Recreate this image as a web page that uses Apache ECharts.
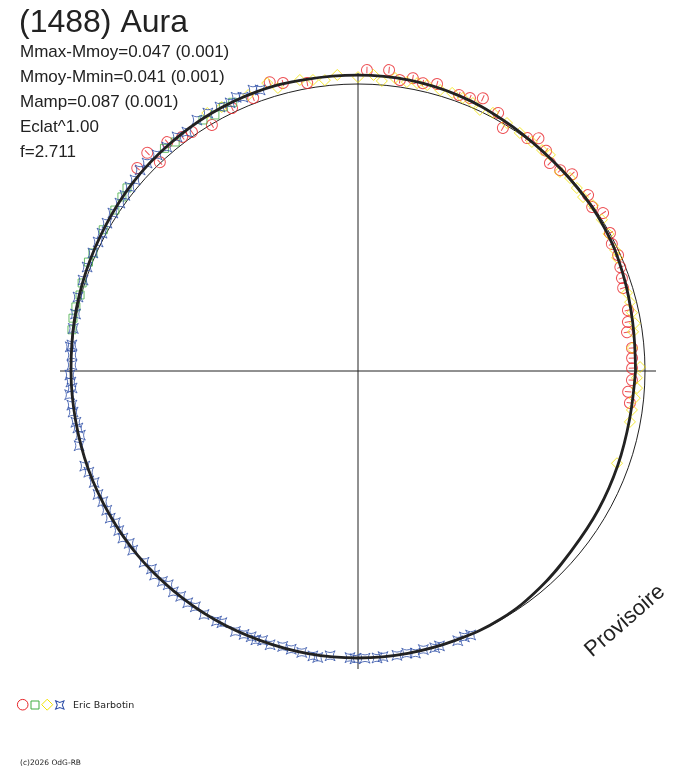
<!DOCTYPE html>
<html>
<head>
<meta charset="utf-8">
<title>(1488) Aura</title>
<script src="https://cdn.jsdelivr.net/npm/echarts@6/dist/echarts.min.js"></script>
<style>
  html, body { margin: 0; padding: 0; background: #fff; }
  #chart { width: 688px; height: 768px; }
</style>
</head>
<body>
<div id="chart"></div>
<script>
// angle in degrees (counter-clockwise from the right), radius = relative flux (1 = mean)
var fitAngle = [0, 10, 20, 30, 40, 50, 60, 70, 80, 90, 100, 110, 120, 130, 140, 150, 160, 170,
  180, 190, 200, 210, 220, 230, 240, 250, 260, 270, 280, 290, 300, 310, 320, 330, 340, 350];
var fitFlux = [0.967, 0.972, 0.983, 0.993, 0.996, 1.000, 1.010, 1.022, 1.029, 1.031, 1.032, 1.035, 1.033, 1.028, 1.023, 1.015, 1.009, 1.004,
  1.000, 0.999, 1.000, 1.000, 1.001, 1.000, 1.000, 0.999, 1.000, 1.000, 0.999, 0.998, 0.997, 0.986, 0.972, 0.967, 0.963, 0.961];

var redAngle = [107, 104.6, 100, 88.3, 84.1, 81.8, 79.4, 77.3, 74.6, 69.9, 67.7, 65.4, 61.5, 59.2, 54, 52.2, 49.5, 47.3, 44.8, 42.6,
  37.4, 35, 32.8, 28.7, 26.6, 24, 21.6, 19.4, 17.4, 12.7, 10.3, 8.2, 4.8, 2.7, 0.6, 358.1, 355.6, 353.3,
  111, 115.6, 120.7, 124.8, 126.9, 129.8, 133.5, 134, 137.4];
var redFlux = [1.052, 1.037, 1.019, 1.049, 1.054, 1.024, 1.038, 1.028, 1.037, 1.024, 1.028, 1.045, 1.023, 0.986, 1.003, 1.026, 1.009, 0.986, 0.993, 1.013,
  1.009, 0.996, 1.016, 1.001, 0.989, 0.992, 0.983, 0.975, 0.968, 0.964, 0.956, 0.947, 0.958, 0.956, 0.955, 0.955, 0.944, 0.954,
  1.019, 1.016, 0.997, 1.014, 1.020, 1.038, 1.003, 1.057, 1.045];

var greenAngle = [115, 117, 119.2, 121.7, 128.6, 131, 141.6, 143.6, 146.5, 151, 156, 158, 162.3, 164.7, 167.2, 169.5, 171.8];
var greenFlux = [1.033, 1.033, 1.022, 1.028, 1.021, 1.028, 1.027, 1.022, 1.016, 1.015, 1.011, 1.013, 1.009, 1.004, 1.008, 1.010, 1.007];

var yellowAngle = [107.5, 105.8, 101.3, 98.8, 96.5, 94, 90, 87, 85.3, 82.8, 80.4, 78.4, 76.4, 73.7, 71.3, 69, 66.8, 65, 62.4, 59,
  55.8, 52.8, 50.2, 48.4, 44.6, 42.3, 39.9, 37.7, 35.2, 31.8, 28.7, 25.2, 23.6, 16.2, 14.2, 12, 9.8, 8.1, 4.8, 0.8,
  358.6, 356.5, 354.4, 351.9, 349.4, 340.4, 111.7, 117.3, 120.3];
var yellowFlux = [1.052, 1.025, 1.034, 1.026, 1.020, 1.034, 1.024, 1.033, 1.014, 1.029, 1.021, 1.024, 1.025, 1.020, 1.023, 1.019, 1.016, 1.004, 1.015, 1.008,
  1.003, 1.002, 1.002, 1.007, 0.988, 0.999, 0.994, 0.991, 1.002, 1.000, 0.995, 0.990, 0.985, 0.976, 0.978, 0.976, 0.979, 0.968, 0.958, 0.983,
  0.972, 0.974, 0.969, 0.964, 0.964, 0.958, 1.035, 1.035, 1.041];

var blueAngle = [109.2, 110.5, 112.8, 114, 115.5, 117.6, 120.2, 122.7, 125.6, 127.7, 130.5, 132.9, 135.4, 137.3, 139.4, 141.1, 143, 144.8, 147.2, 149.5,
  151.7, 153.6, 156, 159, 161.7, 165.2, 168.6, 171.5, 174.8,
  175.2, 176.8, 178.8, 180.8, 182.2, 183.4, 184.7, 186.8, 188.2, 190.3, 191.5, 193, 195, 199.2, 200.6, 202.9, 205.4, 207.1, 209, 210.7,
  212, 213.7, 215.4, 217, 218.5, 221.8, 223.8, 225.1, 227.1, 228.4, 230.1, 231.8, 233.7, 235.4, 237.7, 240.5, 241.6, 244.8, 246.6, 248.1, 249.2,
  250.5, 252.2, 254.7, 256.5, 258.7, 261, 262, 264.4, 268.4, 269.4, 271.4, 273.8, 275, 277.8, 279.8, 281.5, 283.2, 285.5, 286.5, 290.3, 291.8, 293.1];
var blueFlux = [1.037, 1.045, 1.035, 1.044, 1.035, 1.038, 1.040, 1.039, 1.024, 1.031, 1.026, 1.028, 1.032, 1.033, 1.023, 1.021, 1.017, 1.015, 1.016, 1.015,
  1.013, 1.011, 1.011, 1.011, 1.009, 1.009, 1.004, 1.003, 1.001,
  1.006, 0.998, 0.997, 1.004, 1.001, 0.998, 1.008, 1.004, 1.003, 0.999, 0.996, 0.993, 1.006, 1.008, 1.002, 0.998, 1.003, 0.999, 1.001, 1.004,
  0.997, 1.002, 1.005, 0.998, 1.003, 1.000, 0.997, 1.004, 1.001, 0.996, 1.003, 0.999, 1.002, 0.998, 1.004, 1.001, 0.997, 1.003, 1.000, 0.998, 1.002,
  0.996, 1.002, 0.995, 0.997, 1.000, 1.005, 1.008, 0.997, 0.999, 1.003, 1.001, 1.002, 0.999, 1.000, 0.998, 1.003, 0.997, 1.001, 0.999, 1.002, 0.998, 1.000];

var statLines = ['Mmax-Mmoy=0.047 (0.001)', 'Mmoy-Mmin=0.041 (0.001)', 'Mamp=0.087 (0.001)', 'Eclat^1.00', 'f=2.711'];

var RED = '#e8262a', GREEN = '#43ad43', YELLOW = '#f2e400', BLUE = '#3050a8', INK = '#222';
var circleTick = 'path://M0,-10A10,10,0,1,1,0,10A10,10,0,1,1,0,-10ZM0,-6L0,6';
var starPath = 'path://M-10,-10Q0,-3,10,-10Q3,0,10,10Q0,3,-10,10Q-3,0,-10,-10Z';

// unit circle = 287 px; data polar is drawn larger so nothing gets clipped
var R1 = 287, RDATA = 330;
var CENTER = [358, 371];

function pairs(angle, flux) {
  return angle.map(function (a, i) { return [flux[i], a]; });
}

var chart = echarts.init(document.getElementById('chart'), null, { renderer: 'canvas' });

var fitData = pairs(fitAngle, fitFlux);
fitData.push([fitFlux[0], 360]);

function hollow(color) {
  return { color: 'rgba(0,0,0,0)', borderColor: color, borderWidth: 1 };
}

function bareRadius(idx, max) {
  return { polarIndex: idx, type: 'value', min: 0, max: max, axisLine: { show: false }, axisTick: { show: false },
    axisLabel: { show: false }, splitLine: { show: false } };
}

function scatter(name, idxSymbol, size, color, angle, flux) {
  return { name: name, type: 'scatter', coordinateSystem: 'polar', polarIndex: 2, clip: false,
    symbol: idxSymbol, symbolSize: size, itemStyle: hollow(color), data: pairs(angle, flux) };
}

var redSeries = scatter('o', circleTick, 11, RED, redAngle, redFlux);
redSeries.symbolRotate = function (v) { return v[1] - 90; };

var option = {
  animation: false,
  backgroundColor: '#fff',
  textStyle: { fontFamily: 'Liberation Sans, Arial, sans-serif' },
  title: [
    { text: '(1488) Aura', left: 19, top: 7, padding: 0,
      textStyle: { fontSize: 32, fontWeight: 'normal', color: INK, fontFamily: 'Liberation Sans' } },
    { text: statLines.join('\n'), left: 20, top: 40, padding: 0,
      textStyle: { fontSize: 17, lineHeight: 25, fontWeight: 'normal', color: INK, fontFamily: 'Liberation Sans' } }
  ],
  polar: [
    { center: CENTER, radius: 298 },
    { center: CENTER, radius: R1 },
    { center: CENTER, radius: RDATA }
  ],
  angleAxis: [
    { polarIndex: 0, type: 'value', min: 0, max: 360, interval: 90, startAngle: 0, clockwise: false,
      axisLine: { show: false }, axisTick: { show: false }, axisLabel: { show: false },
      splitLine: { show: true, lineStyle: { color: INK, width: 1 } } },
    { polarIndex: 1, type: 'value', min: 0, max: 360, startAngle: 0, clockwise: false,
      axisLine: { show: true, lineStyle: { color: INK, width: 1 } }, axisTick: { show: false },
      axisLabel: { show: false }, splitLine: { show: false } },
    { polarIndex: 2, type: 'value', min: 0, max: 360, startAngle: 0, clockwise: false,
      axisLine: { show: false }, axisTick: { show: false }, axisLabel: { show: false }, splitLine: { show: false } }
  ],
  radiusAxis: [bareRadius(0, 1), bareRadius(1, 1), bareRadius(2, RDATA / R1)],
  series: [
    redSeries,
    scatter('c', 'rect', 8, GREEN, greenAngle, greenFlux),
    scatter('l', 'diamond', 11, YELLOW, yellowAngle, yellowFlux),
    scatter('e', starPath, 10, BLUE, blueAngle, blueFlux),
    { name: 'fit', type: 'line', coordinateSystem: 'polar', polarIndex: 2, clip: false, z: 5,
      smooth: 0.4, symbol: 'none', lineStyle: { color: INK, width: 2.8 }, data: fitData }
  ],
  graphic: [
    { type: 'circle', shape: { cx: 22.7, cy: 704.7, r: 5.3 }, style: { fill: 'none', stroke: RED, lineWidth: 1 } },
    { type: 'rect', shape: { x: 31, y: 701, width: 8, height: 8 }, style: { fill: 'none', stroke: GREEN, lineWidth: 1 } },
    { type: 'polygon', shape: { points: [[47.2, 699.2], [52.7, 704.7], [47.2, 710.2], [41.7, 704.7]] },
      style: { fill: 'none', stroke: YELLOW, lineWidth: 1 } },
    { type: 'polygon', x: 59.8, y: 705, scaleX: 0.42, scaleY: 0.42,
      shape: { points: [[-10, -10], [0, -6], [10, -10], [6, 0], [10, 10], [0, 6], [-10, 10], [-6, 0]] },
      style: { fill: 'none', stroke: BLUE, lineWidth: 2.4 } },
    { type: 'text', x: 73, y: 705.5, style: { text: 'Eric Barbotin', fontSize: 9.5, fontFamily: 'DejaVu Sans',
      fill: INK, verticalAlign: 'middle' } },
    { type: 'text', x: 20, y: 763, style: { text: '(c)2026 OdG-RB', fontSize: 7.5, fontFamily: 'DejaVu Sans',
      fill: INK, verticalAlign: 'middle' } },
    { type: 'text', x: 625, y: 621, rotation: 0.715, style: { text: 'Provisoire', fontSize: 22,
      fontFamily: 'Liberation Sans', fill: INK, align: 'center', verticalAlign: 'middle' } }
  ]
};

chart.setOption(option);
</script>
</body>
</html>
